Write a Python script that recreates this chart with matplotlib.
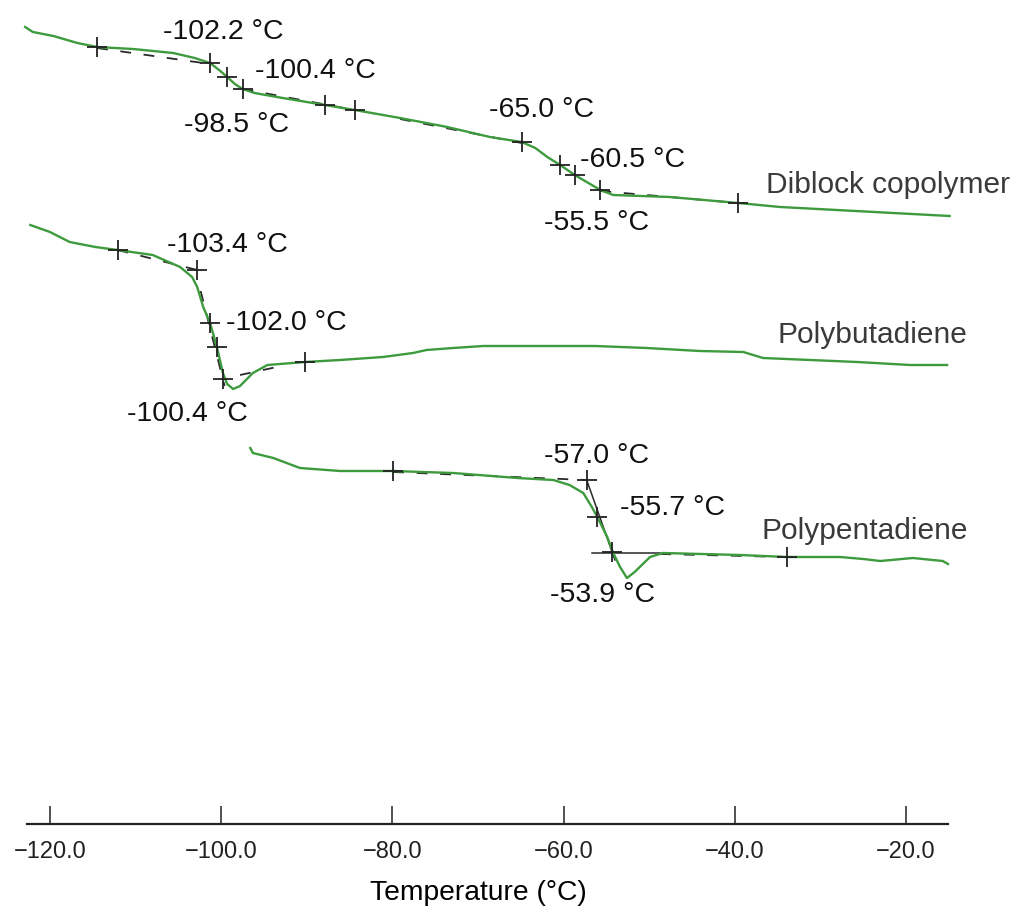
# DSC thermograms: diblock copolymer vs. the two homopolymers
import numpy as np
import matplotlib
matplotlib.use("Agg")
import matplotlib.pyplot as plt

plt.rcParams['font.family'] = ['Liberation Sans', 'DejaVu Sans']

# --- data (temperature in deg C, heat flow in arbitrary units, curves stacked) ---
diblock_T = [-122.9, -122.0, -119.6, -116.8, -114.5, -110.3, -105.6, -103.1, -101.3,
             -100.1, -99.3, -98.4, -97.5, -96.1, -93.5, -87.9, -84.4, -79.1, -73.6,
             -68.6, -64.9, -63.3, -61.9, -60.4, -58.7, -56.9, -55.7, -54.2, -47.6,
             -39.6, -34.7, -28.1, -21.5, -14.9]
diblock_hf = [887, 882, 878, 871, 867, 865, 861, 856, 851, 843, 837, 830, 825, 821, 817,
              809, 804, 796, 787, 777, 772, 766, 757, 749, 739, 730, 724, 719, 717, 711,
              707, 704, 701, 698]

pbd_T = [-122.3, -120.0, -117.7, -114.7, -112.1, -108.0, -104.8, -103.4, -102.8, -102.1,
         -101.3, -100.5, -99.8, -99.3, -98.6, -97.8, -96.3, -94.6, -90.2, -86.1, -81.1,
         -77.6, -76.0, -72.9, -69.4, -56.3, -50.3, -44.1, -39.0, -36.7, -25.7, -19.5,
         -15.2]
pbd_hf = [689, 682, 672, 667, 664, 659, 647, 637, 627, 607, 591, 567, 541, 530, 525, 528,
          541, 549, 552, 554, 557, 561, 564, 566, 568, 568, 566, 563, 562, 556, 552, 549,
          549]

ppd_T = [-96.6, -96.3, -93.9, -90.8, -86.1, -79.9, -72.9, -65.4, -61.2, -59.3, -57.7,
         -56.7, -56.0, -54.9, -54.2, -53.4, -52.6, -51.7, -49.9, -48.4, -39.4, -33.9,
         -27.7, -25.0, -23.0, -19.2, -15.7, -15.1]
ppd_hf = [466, 461, 456, 446, 443, 443, 441, 436, 434, 429, 421, 407, 396, 377, 361, 347,
          336, 342, 357, 361, 359, 357, 357, 355, 353, 356, 353, 350]

# analysis cursors (+ marks)
diblock_mark_T = [-114.5, -101.3, -99.3, -97.5, -87.9, -84.4, -64.9, -60.4, -58.7, -55.7, -39.6]
diblock_mark_hf = [867, 851, 837, 825, 809, 804, 772, 749, 739, 724, 711]
pbd_mark_T = [-112.1, -102.8, -101.3, -100.5, -99.8, -90.2]
pbd_mark_hf = [664, 644, 591, 567, 535, 552]
ppd_mark_T = [-79.9, -57.3, -56.1, -54.3, -33.9]
ppd_mark_hf = [443, 434, 397, 362, 357]

# tangent / baseline construction lines (dashed where hidden behind the trace)
dashed_tangents = [
    ([-114.5, -101.3], [866, 850]), ([-97.5, -84.4], [825, 804]),
    ([-79.1, -64.9], [795, 771]), ([-55.7, -39.6], [723, 711]),
    ([-112.1, -102.8], [664, 644]), ([-102.4, -99.6], [623, 528]),
    ([-97.8, -93.5], [539, 547]),
    ([-79.9, -57.3], [442, 434]), ([-48.7, -33.9], [360, 357]),
]
solid_tangents = [
    ([-57.3, -54.0], [434, 354]), ([-56.7, -48.7], [361, 361]),
]

temp_labels = ["-102.2 °C", "-100.4 °C", "-98.5 °C", "-65.0 °C", "-60.5 °C", "-55.5 °C",
               "-103.4 °C", "-102.0 °C", "-100.4 °C", "-57.0 °C", "-55.7 °C", "-53.9 °C"]
curve_names = ["Diblock copolymer", "Polybutadiene", "Polypentadiene"]
xticks = [-120, -100, -80, -60, -40, -20]

# label placement (T, hf)
temp_label_pos = [(-99.7, 882), (-89.0, 843), (-98.2, 789), (-62.6, 804), (-51.9, 754),
                  (-56.1, 691), (-99.3, 669), (-92.4, 591), (-104.0, 500), (-56.1, 458),
                  (-47.3, 406), (-55.5, 319)]
curve_name_pos = [(-22.1, 729), (-23.9, 579), (-24.8, 383)]

green = '#3d9b3d'

fig = plt.figure(figsize=(10.2, 9.14), dpi=100)
ax = fig.add_axes([0, 0, 1, 1])
ax.set_xlim(-125.84, -6.68)
ax.set_ylim(0, 914)

for xs, ys in dashed_tangents:
    ax.plot(xs, ys, color='#2a2a2a', lw=1.3, dashes=(6, 7), zorder=2)
for xs, ys in solid_tangents:
    ax.plot(xs, ys, color='#2a2a2a', lw=1.1, zorder=2)

for T, hf in [(diblock_T, diblock_hf), (pbd_T, pbd_hf), (ppd_T, ppd_hf)]:
    ax.plot(T, hf, color=green, lw=1.7, zorder=3)

for T, hf in [(diblock_mark_T, diblock_mark_hf), (pbd_mark_T, pbd_mark_hf),
              (ppd_mark_T, ppd_mark_hf)]:
    ax.plot(T, hf, linestyle='none', marker='+', markersize=15, mew=1.3,
            color='#222222', zorder=4)

for txt, (x, y) in zip(temp_labels, temp_label_pos):
    ax.text(x, y, txt, fontsize=20.5, ha='center', va='center', color='#111111')

for txt, (x, y) in zip(curve_names, curve_name_pos):
    ax.text(x, y, txt, fontsize=21.5, ha='center', va='center', color='#3a3a3a')

# x axis drawn as a free-floating spine
for s in ['top', 'left', 'right']:
    ax.spines[s].set_visible(False)
ax.spines['bottom'].set_position(('data', 90))
ax.spines['bottom'].set_bounds(-122.7, -15.1)
ax.spines['bottom'].set_linewidth(1.6)
ax.spines['bottom'].set_color('#222222')
ax.set_yticks([])
ax.set_xticks(xticks)
ax.set_xticklabels([f"\u2212{abs(v):.1f}" for v in xticks])
ax.tick_params(axis='x', direction='in', length=13, width=1.1, pad=12,
               labelsize=17, colors='#222222')
ax.patch.set_visible(False)

fig.text(478 / 1020, 1 - 893 / 914, "Temperature (°C)", fontsize=20.3,
         ha='center', va='center')

fig.savefig("out.png", dpi=100)
